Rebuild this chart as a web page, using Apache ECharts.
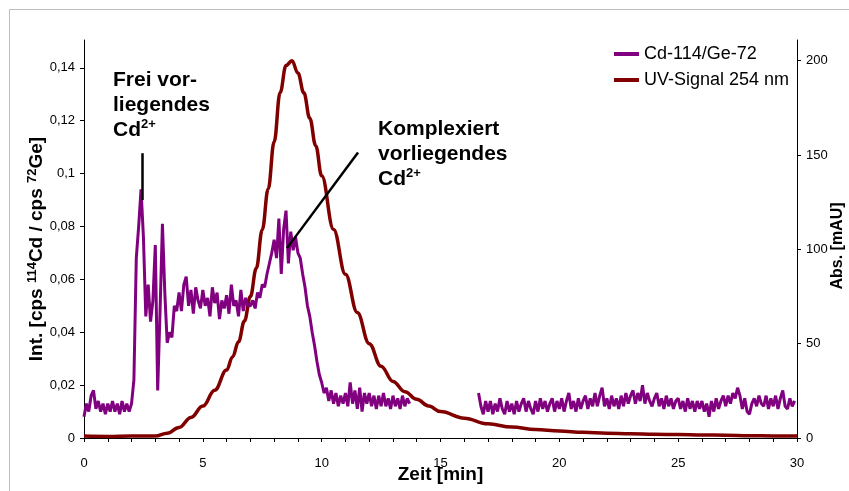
<!DOCTYPE html>
<html>
<head>
<meta charset="utf-8">
<script src="https://cdn.jsdelivr.net/npm/echarts@6/dist/echarts.min.js"></script>
<style>
html,body{margin:0;padding:0;background:#fff;overflow:hidden;}
#c{width:849px;height:491px;}
</style>
</head>
<body>
<div id="c"></div>
<script>
// ---- Data ----
// Cd-114/Ge-72 signal, sampled every 0.1 min starting at 0 min (null = no data)
const cdStart = 0;
const cdStep = 0.1;
const cdValues = [
  0.008, 0.013, 0.010, 0.016, 0.018, 0.011, 0.014, 0.010, 0.013, 0.009,
  0.013, 0.010, 0.014, 0.010, 0.013, 0.009, 0.014, 0.010, 0.013, 0.010,
  0.013, 0.022, 0.068, 0.080, 0.094, 0.076, 0.046, 0.058, 0.044, 0.052,
  0.073, 0.018, 0.048, 0.081, 0.055, 0.036, 0.040, 0.038, 0.050, 0.048,
  0.055, 0.048, 0.058, 0.061, 0.050, 0.056, 0.047, 0.057, 0.052, 0.049,
  0.056, 0.050, 0.053, 0.046, 0.057, 0.051, 0.055, 0.045, 0.052, 0.049,
  0.054, 0.047, 0.058, 0.050, 0.052, 0.046, 0.056, 0.048, 0.053, 0.050,
  0.050, 0.052, 0.049, 0.055, 0.053, 0.058, 0.057, 0.062, 0.066, 0.070,
  0.075, 0.068, 0.083, 0.062, 0.079, 0.086, 0.066, 0.078, 0.071, 0.076,
  0.070, 0.068, 0.062, 0.057, 0.050, 0.046, 0.040, 0.035, 0.029, 0.024,
  0.021, 0.017, 0.019, 0.014, 0.018, 0.013, 0.017, 0.012, 0.016, 0.013,
  0.017, 0.012, 0.021, 0.013, 0.018, 0.011, 0.019, 0.010, 0.017, 0.013,
  0.017, 0.012, 0.016, 0.011, 0.016, 0.012, 0.017, 0.012, 0.015, 0.011,
  0.016, 0.012, 0.015, 0.011, 0.016, 0.012, 0.015, 0.013, null, null,
  null, null, null, null, null, null, null, null, null, null,
  null, null, null, null, null, null, null, null, null, null,
  null, null, null, null, null, null, 0.017, 0.012, 0.009, 0.014,
  0.010, 0.014, 0.009, 0.013, 0.010, 0.015, 0.011, 0.009, 0.014, 0.010,
  0.013, 0.009, 0.014, 0.010, 0.013, 0.015, 0.010, 0.014, 0.011, 0.009,
  0.014, 0.010, 0.015, 0.011, 0.014, 0.010, 0.013, 0.015, 0.010, 0.014,
  0.011, 0.015, 0.010, 0.014, 0.017, 0.011, 0.014, 0.010, 0.015, 0.011,
  0.014, 0.016, 0.011, 0.015, 0.012, 0.017, 0.012, 0.016, 0.019, 0.012,
  0.015, 0.011, 0.016, 0.012, 0.015, 0.011, 0.016, 0.012, 0.017, 0.013,
  0.016, 0.018, 0.013, 0.017, 0.014, 0.020, 0.013, 0.017, 0.014, 0.012,
  0.015, 0.017, 0.012, 0.015, 0.011, 0.016, 0.012, 0.015, 0.011, 0.014,
  0.015, 0.011, 0.014, 0.010, 0.015, 0.011, 0.014, 0.010, 0.014, 0.011,
  0.014, 0.010, 0.013, 0.008, 0.014, 0.010, 0.015, 0.011, 0.014, 0.016,
  0.012, 0.016, 0.013, 0.017, 0.015, 0.019, 0.016, 0.011, 0.015, 0.010,
  0.009, 0.013, 0.015, 0.012, 0.016, 0.013, 0.012, 0.016, 0.011, 0.015,
  0.012, 0.016, 0.011, 0.015, 0.018, 0.012, 0.011, 0.015, 0.012, 0.014
];

// UV-Signal 254 nm
const uvTimes = [0, 1, 2, 3, 3.5, 4, 4.5, 5, 5.5, 6, 6.25, 6.5, 6.75, 7, 7.25, 7.5, 7.75, 8, 8.25, 8.5,
  8.75, 9, 9.25, 9.5, 9.75, 10, 10.5, 11, 11.5, 12, 12.5, 13, 13.5, 14, 14.5, 15, 16, 17, 18, 19,
  20, 21, 22, 23, 24, 25, 26, 27, 28, 29, 30];
const uvValues = [1, 0.8, 1, 1, 2.5, 5.6, 10.9, 16.9, 25.3, 36, 43, 51, 62, 75, 90, 110.4, 132, 157, 183, 197.5,
  200, 193.5, 183, 169.5, 155, 139, 110.6, 86.8, 66.5, 50, 38, 30, 24.5, 20.5, 17, 14, 10.5, 7.5, 5.8, 4.5,
  3.7, 3, 2.5, 2.2, 2, 1.8, 1.6, 1.5, 1.2, 1.1, 1];

const seriesNames = ['Cd-114/Ge-72', 'UV-Signal 254 nm'];
const xTicks = [0, 5, 10, 15, 20, 25, 30];
const leftTicks = [0, 0.02, 0.04, 0.06, 0.08, 0.1, 0.12, 0.14];
const rightTicks = [0, 50, 100, 150, 200];

// ---- Build ----
const cdData = cdValues.map((v, i) => [+(cdStart + i * cdStep).toFixed(1), v]);
const uvData = uvTimes.map((t, i) => [t, uvValues[i]]);

const FONT = '"Liberation Sans", Arial, sans-serif';
const chart = echarts.init(document.getElementById('c'), null, {renderer: 'canvas'});

const annoRich = {
  b: {fontFamily: FONT, fontWeight: 'bold', fontSize: 21, color: '#000', lineHeight: 25},
  sup: {fontFamily: FONT, fontWeight: 'bold', fontSize: 13, color: '#000', padding: [0, 0, 11, 0], lineHeight: 25}
};

chart.setOption({
  animation: false,
  backgroundColor: '#fff',
  textStyle: {fontFamily: FONT},
  graphic: [
    {type: 'line', shape: {x1: 9.5, y1: 9.5, x2: 849, y2: 9.5}, style: {stroke: '#bdbdbd', lineWidth: 1}, silent: true},
    {type: 'line', shape: {x1: 9.5, y1: 9.5, x2: 9.5, y2: 491}, style: {stroke: '#bdbdbd', lineWidth: 1}, silent: true}
  ],
  grid: {left: 84, right: 52, top: 40, bottom: 53, containLabel: false, outerBoundsMode: 'none'},
  legend: {
    orient: 'vertical',
    left: 609,
    top: 40,
    itemWidth: 25,
    itemHeight: 4,
    itemGap: 8,
    icon: 'rect',
    textStyle: {fontFamily: FONT, fontSize: 18, color: '#000'},
    data: seriesNames
  },
  xAxis: {
    type: 'value',
    min: 0, max: 30, interval: 5,
    name: 'Zeit [min]',
    nameLocation: 'middle',
    nameGap: 27,
    nameMoveOverlap: false,
    nameTextStyle: {fontFamily: FONT, fontWeight: 'bold', fontSize: 19, color: '#000'},
    axisLine: {show: true, lineStyle: {color: '#000', width: 1}},
    axisTick: {show: true, length: 4, inside: false, lineStyle: {color: '#000'}, customValues: xTicks},
    minorTick: {show: true, splitNumber: 5, length: 4, lineStyle: {color: '#000'}},
    axisLabel: {fontFamily: FONT, fontSize: 13, color: '#000', margin: 19, customValues: xTicks},
    splitLine: {show: false}
  },
  yAxis: [
    {
      type: 'value',
      min: 0, max: 0.1505,
      position: 'left',
      name: 'Int. [cps {sup|114}Cd / cps {sup|72}Ge]',
      nameLocation: 'middle',
      nameGap: 36,
      nameMoveOverlap: false,
      nameTextStyle: {
        fontFamily: FONT, fontWeight: 'bold', fontSize: 19, color: '#000',
        padding: [0, 20, 0, 0],
        rich: {sup: {fontFamily: FONT, fontWeight: 'bold', fontSize: 13, color: '#000', padding: [0, 0, 9, 0]}}
      },
      axisLine: {show: true, onZero: false, lineStyle: {color: '#000', width: 1}},
      axisTick: {show: true, length: 4, lineStyle: {color: '#000'}, customValues: leftTicks},
      axisLabel: {
        fontFamily: FONT, fontSize: 13, color: '#000', margin: 9, customValues: leftTicks,
        formatter: v => String(Math.round(v * 100) / 100).replace('.', ',')
      },
      splitLine: {show: false}
    },
    {
      type: 'value',
      min: 0, max: 211,
      position: 'right',
      name: 'Abs. [mAU]',
      nameLocation: 'middle',
      nameGap: 33,
      nameMoveOverlap: false,
      nameTextStyle: {fontFamily: FONT, fontWeight: 'bold', fontSize: 16, color: '#000', padding: [0, 14, 0, 0]},
      axisLine: {show: true, onZero: false, lineStyle: {color: '#000', width: 1}},
      axisTick: {show: true, length: 4, lineStyle: {color: '#000'}, customValues: rightTicks},
      axisLabel: {fontFamily: FONT, fontSize: 13, color: '#000', margin: 9, customValues: rightTicks},
      splitLine: {show: false}
    }
  ],
  series: [
    {
      name: seriesNames[0],
      type: 'line',
      yAxisIndex: 0,
      data: cdData,
      showSymbol: false,
      connectNulls: false,
      color: '#800080',
      lineStyle: {color: '#800080', width: 3},
      z: 3,
      markLine: {
        silent: true,
        symbol: ['none', 'none'],
        label: {show: false},
        lineStyle: {color: '#000', width: 2.5, type: 'solid'},
        data: [
          [{coord: [2.44, 0.1077]}, {coord: [2.44, 0.090]}],
          [{coord: [8.54, 0.0718]}, {coord: [11.53, 0.108]}]
        ]
      },
      markPoint: {
        silent: true,
        symbol: 'circle',
        symbolSize: 0,
        data: [
          {coord: [1.22, 0.1400], value: 0,
            label: {show: true, position: [0, 0], align: 'left', verticalAlign: 'top',
              formatter: '{b|Frei vor-}\n{b|liegendes}\n{b|Cd}{sup|2+}', rich: annoRich}},
          {coord: [12.37, 0.1215], value: 0,
            label: {show: true, position: [0, 0], align: 'left', verticalAlign: 'top',
              formatter: '{b|Komplexiert}\n{b|vorliegendes}\n{b|Cd}{sup|2+}', rich: annoRich}}
        ]
      }
    },
    {
      name: seriesNames[1],
      type: 'line',
      yAxisIndex: 1,
      data: uvData,
      showSymbol: false,
      smooth: 0.4,
      smoothMonotone: 'x',
      color: '#800000',
      lineStyle: {color: '#800000', width: 3.5},
      z: 2
    }
  ]
});
</script>
</body>
</html>
